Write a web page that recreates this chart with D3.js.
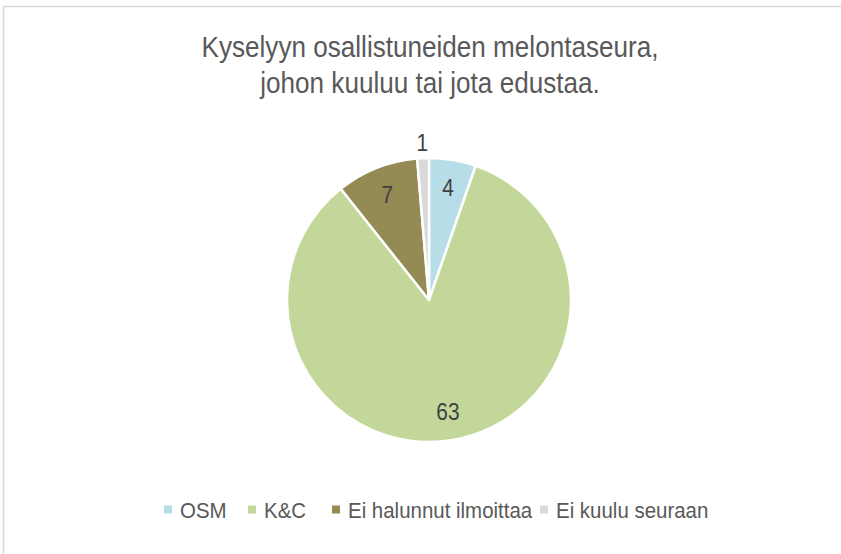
<!DOCTYPE html>
<meta charset="utf-8">
<html>
<head>
  <script src="https://d3js.org/d3.v7.min.js"></script>
</head>
<style>
* {
    font-family: "Liberation Sans", Arial, sans-serif;
}
body {
    margin: 0;
    background-color: white;
}
.title {
    text-anchor: middle;
    font-size: 30px;
    fill: #595959;
}
.label {
    text-anchor: middle;
    font-size: 24px;
    fill: #404040;
}
.legend text {
    font-size: 22px;
    fill: #595959;
}
</style>
<body>
<div id="container"></div>
<script>

var categories = ["OSM", "K&C", "Ei halunnut ilmoittaa", "Ei kuulu seuraan"]
var values = [4, 63, 7, 1]
var colors = ["#b7dde8", "#c4d79b", "#948a54", "#d9d9d9"]
var titleLines = ["Kyselyyn osallistuneiden melontaseura,", "johon kuuluu tai jota edustaa."]

var width = 841
var height = 554
var cx = 429, cy = 300, radius = 142
// the original uses a narrow font, squeeze the regular one horizontally
var narrow = 0.87

var svg = d3.select("#container")
            .append("svg")
            .attr("width", width)
            .attr("height", height)

// chart border
svg.append("rect")
   .attr("x", 3.5)
   .attr("y", 6.5)
   .attr("width", width)
   .attr("height", height)
   .attr("fill", "white")
   .attr("stroke", "#d9d9d9")
   .attr("stroke-width", 1.5)

svg.selectAll(".title")
   .data(titleLines)
   .enter()
   .append("text")
   .attr("class", "title")
   .attr("transform", (d, i) => "translate(430," + (57 + i * 36) + ") scale(" + narrow + ",1)")
   .text(d => d)

var data = categories.map((c, i) => ({name: c, value: values[i], color: colors[i]}))

var pie = d3.pie().sort(null).value(d => d.value)
var arcs = pie(data)

var arc = d3.arc().innerRadius(0).outerRadius(radius)
var labelArc = d3.arc().innerRadius(radius * 0.8).outerRadius(radius * 0.8)
var outerArc = d3.arc().innerRadius(radius + 16).outerRadius(radius + 16)

var g = svg.append("g").attr("transform", "translate(" + cx + "," + cy + ")")

g.selectAll("path")
 .data(arcs)
 .enter()
 .append("path")
 .attr("d", arc)
 .attr("fill", d => d.data.color)
 .attr("stroke", "white")
 .attr("stroke-width", 2.5)
 .attr("stroke-linejoin", "round")

var total = d3.sum(values)

g.selectAll(".label")
 .data(arcs)
 .enter()
 .append("text")
 .attr("class", "label")
 .attr("transform", function(d) {
     // small slices get their label outside the pie
     var p = d.data.value / total < 0.03 ? outerArc.centroid(d) : labelArc.centroid(d)
     return "translate(" + p[0] + "," + p[1] + ") scale(" + narrow + ",1)"
 })
 .attr("dy", "0.35em")
 .text(d => d.data.value)

// legend
var legendX = d3.scaleOrdinal()
                .domain(categories)
                .range([164, 248, 332, 540])

var legend = svg.append("g").attr("class", "legend")

var items = legend.selectAll("g")
                  .data(data)
                  .enter()
                  .append("g")
                  .attr("transform", d => "translate(" + legendX(d.name) + ",510)")

items.append("rect")
     .attr("x", 0)
     .attr("y", -4.5)
     .attr("width", 8)
     .attr("height", 8)
     .attr("fill", d => d.color)

items.append("text")
     .attr("transform", "translate(16,0) scale(0.93,1)")
     .attr("dy", "0.35em")
     .text(d => d.name)

</script>
</body>
</html>
